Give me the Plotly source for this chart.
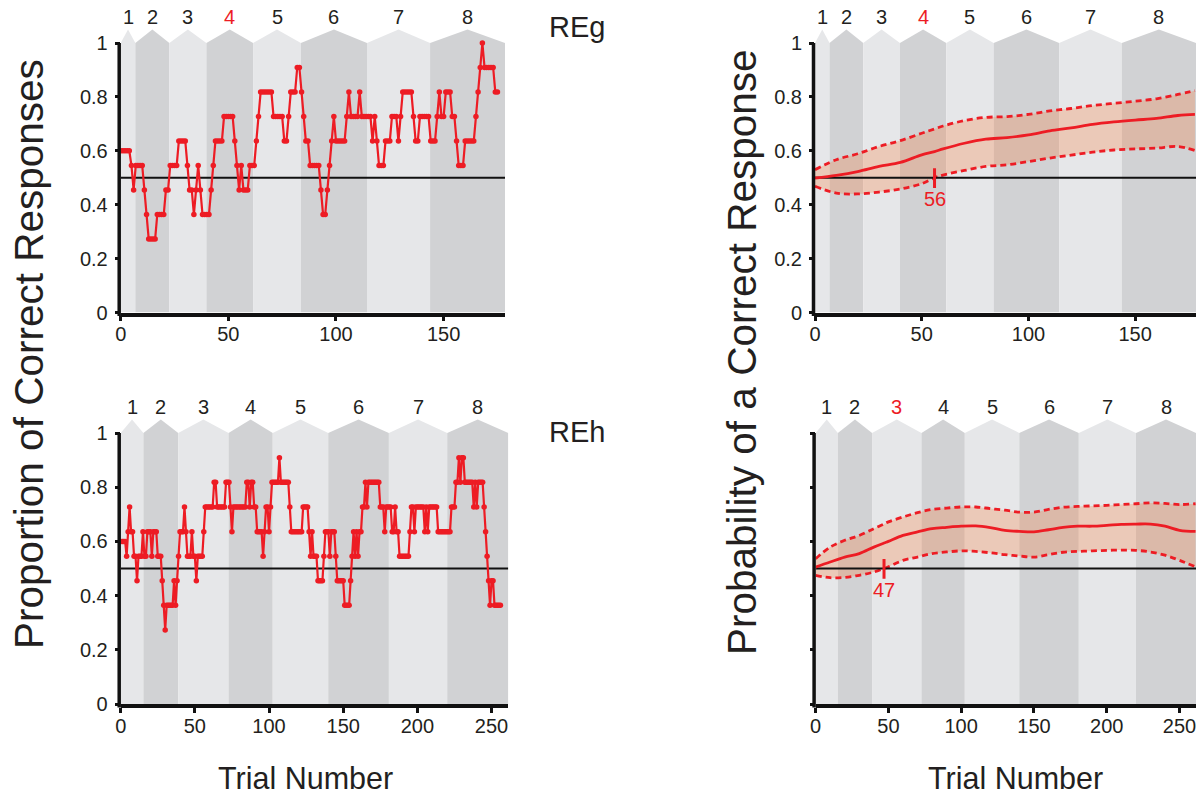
import plotly.graph_objects as go

# ---------------- data ----------------
# Sliding-window proportion of correct responses, one value per trial (trial 0 first)
reg_prop = [
    0.600, 0.600, 0.600, 0.600, 0.600, 0.545, 0.455, 0.545, 0.545, 0.545,
    0.545, 0.455, 0.364, 0.273, 0.273, 0.273, 0.273, 0.364, 0.364, 0.364,
    0.364, 0.455, 0.455, 0.545, 0.545, 0.545, 0.545, 0.636, 0.636, 0.636,
    0.636, 0.545, 0.455, 0.455, 0.364, 0.455, 0.545, 0.455, 0.364, 0.364,
    0.364, 0.364, 0.455, 0.545, 0.636, 0.636, 0.636, 0.636, 0.727, 0.727,
    0.727, 0.727, 0.727, 0.636, 0.545, 0.455, 0.545, 0.455, 0.455, 0.455,
    0.545, 0.545, 0.545, 0.636, 0.727, 0.818, 0.818, 0.818, 0.818, 0.818,
    0.818, 0.727, 0.727, 0.727, 0.727, 0.727, 0.636, 0.636, 0.727, 0.818,
    0.818, 0.818, 0.909, 0.909, 0.818, 0.727, 0.636, 0.636, 0.545, 0.545,
    0.545, 0.545, 0.545, 0.455, 0.364, 0.364, 0.455, 0.545, 0.636, 0.727,
    0.636, 0.636, 0.636, 0.636, 0.636, 0.727, 0.818, 0.727, 0.727, 0.727,
    0.727, 0.818, 0.727, 0.727, 0.727, 0.727, 0.727, 0.636, 0.727, 0.636,
    0.545, 0.545, 0.545, 0.636, 0.636, 0.636, 0.727, 0.727, 0.727, 0.636,
    0.727, 0.818, 0.818, 0.818, 0.818, 0.818, 0.727, 0.636, 0.636, 0.727,
    0.727, 0.727, 0.727, 0.727, 0.636, 0.636, 0.636, 0.727, 0.818, 0.727,
    0.727, 0.818, 0.818, 0.818, 0.727, 0.727, 0.636, 0.545, 0.545, 0.545,
    0.636, 0.636, 0.636, 0.636, 0.636, 0.727, 0.818, 0.909, 1.000, 0.909,
    0.909, 0.909, 0.909, 0.909, 0.818, 0.818,
]

reh_prop = [
    0.600, 0.600, 0.600, 0.600, 0.545, 0.636, 0.727, 0.636, 0.636, 0.545,
    0.545, 0.455, 0.545, 0.545, 0.545, 0.636, 0.545, 0.545, 0.636, 0.636,
    0.636, 0.545, 0.636, 0.636, 0.636, 0.545, 0.545, 0.545, 0.455, 0.364,
    0.273, 0.364, 0.364, 0.364, 0.364, 0.364, 0.455, 0.364, 0.455, 0.545,
    0.636, 0.636, 0.636, 0.727, 0.636, 0.545, 0.545, 0.545, 0.636, 0.545,
    0.545, 0.455, 0.545, 0.545, 0.545, 0.545, 0.636, 0.727, 0.727, 0.727,
    0.727, 0.727, 0.727, 0.818, 0.818, 0.727, 0.727, 0.727, 0.727, 0.727,
    0.727, 0.818, 0.818, 0.818, 0.727, 0.636, 0.727, 0.727, 0.727, 0.727,
    0.727, 0.727, 0.727, 0.727, 0.727, 0.818, 0.818, 0.727, 0.818, 0.818,
    0.727, 0.727, 0.636, 0.636, 0.636, 0.636, 0.545, 0.636, 0.727, 0.727,
    0.636, 0.727, 0.818, 0.818, 0.818, 0.818, 0.818, 0.909, 0.818, 0.818,
    0.818, 0.818, 0.818, 0.818, 0.727, 0.636, 0.636, 0.636, 0.636, 0.636,
    0.636, 0.636, 0.636, 0.727, 0.727, 0.727, 0.727, 0.636, 0.545, 0.636,
    0.545, 0.545, 0.545, 0.455, 0.455, 0.455, 0.455, 0.545, 0.636, 0.636,
    0.636, 0.545, 0.636, 0.636, 0.636, 0.545, 0.455, 0.455, 0.455, 0.455,
    0.455, 0.364, 0.364, 0.364, 0.364, 0.455, 0.545, 0.636, 0.545, 0.636,
    0.545, 0.636, 0.636, 0.727, 0.727, 0.818, 0.727, 0.818, 0.818, 0.818,
    0.818, 0.818, 0.818, 0.818, 0.818, 0.727, 0.727, 0.727, 0.636, 0.727,
    0.727, 0.727, 0.727, 0.636, 0.636, 0.727, 0.636, 0.636, 0.545, 0.545,
    0.545, 0.545, 0.545, 0.545, 0.545, 0.636, 0.727, 0.727, 0.636, 0.727,
    0.727, 0.727, 0.727, 0.727, 0.727, 0.636, 0.727, 0.636, 0.727, 0.727,
    0.727, 0.727, 0.727, 0.727, 0.636, 0.636, 0.636, 0.636, 0.636, 0.636,
    0.636, 0.636, 0.636, 0.727, 0.727, 0.727, 0.818, 0.818, 0.909, 0.818,
    0.909, 0.909, 0.818, 0.818, 0.818, 0.818, 0.818, 0.818, 0.727, 0.818,
    0.727, 0.818, 0.818, 0.818, 0.818, 0.727, 0.636, 0.545, 0.455, 0.364,
    0.455, 0.455, 0.364, 0.364, 0.364, 0.364, 0.364,
]

# Estimated probability of a correct response with its 95% confidence band
reg_est_trial = [0, 10, 20, 30, 40, 50, 56, 60, 70, 80, 90, 100, 110, 120, 130, 140, 150, 160, 170, 178]
reg_est_mean = [0.499, 0.509, 0.523, 0.542, 0.557, 0.585, 0.597, 0.607, 0.628, 0.643,
                0.649, 0.659, 0.674, 0.685, 0.698, 0.707, 0.714, 0.720, 0.731, 0.735]
reg_est_upper = [0.530, 0.567, 0.589, 0.616, 0.638, 0.665, 0.681, 0.692, 0.712, 0.724,
                 0.727, 0.735, 0.748, 0.757, 0.768, 0.776, 0.784, 0.793, 0.809, 0.823]
reg_est_lower = [0.468, 0.443, 0.440, 0.447, 0.458, 0.478, 0.500, 0.510, 0.527, 0.542,
                 0.548, 0.560, 0.573, 0.584, 0.595, 0.603, 0.607, 0.610, 0.616, 0.601]

reh_est_trial = [0, 10, 20, 30, 40, 47, 50, 60, 70, 80, 90, 100, 110, 120, 130, 140,
                 150, 160, 170, 180, 190, 200, 210, 220, 230, 240, 250, 261]
reh_est_mean = [0.505, 0.524, 0.542, 0.555, 0.579, 0.594, 0.600, 0.622, 0.635, 0.647,
                0.652, 0.656, 0.657, 0.651, 0.641, 0.637, 0.635, 0.643, 0.652, 0.656,
                0.656, 0.659, 0.663, 0.664, 0.664, 0.656, 0.641, 0.637]
reh_est_upper = [0.536, 0.579, 0.604, 0.622, 0.647, 0.664, 0.672, 0.690, 0.706, 0.718,
                 0.723, 0.727, 0.727, 0.721, 0.715, 0.708, 0.708, 0.718, 0.726, 0.729,
                 0.731, 0.733, 0.736, 0.739, 0.742, 0.740, 0.736, 0.739]
reh_est_lower = [0.475, 0.466, 0.467, 0.475, 0.487, 0.500, 0.506, 0.530, 0.542, 0.555,
                 0.561, 0.565, 0.563, 0.558, 0.551, 0.546, 0.542, 0.551, 0.560, 0.563,
                 0.565, 0.567, 0.568, 0.567, 0.561, 0.549, 0.530, 0.506]

# Block boundaries (trial number at which each block starts / the last one ends)
reg_block_edges = [0, 6.8, 22.6, 39.8, 61.5, 83.7, 114.4, 143.7, 178.5]
reh_block_edges = [0, 15.3, 38.8, 72.7, 102.5, 139.9, 180.8, 220.1, 261.3]

# Learning trial: first trial where the lower confidence bound exceeds chance
reg_learning_trial = 56
reh_learning_trial = 47
chance_level = 0.5

y_tick_vals = [0, 0.2, 0.4, 0.6, 0.8, 1.0]
y_tick_text = ["0", "0.2", "0.4", "0.6", "0.8", "1"]

# ---------------- styling ----------------
W, H = 1199, 795
FONT = "Arial, 'Liberation Sans', Helvetica, sans-serif"
RED = "#ed1c24"
TXT = "#231f20"
AXIS = "#111111"
LIGHT = "#e6e7e9"
DARK = "#d1d2d4"
BAND = "rgba(250,111,41,0.25)"
ROOF = 0.05
YTOP = 1.06

# panel pixel boxes: (left px, right px, y=0 px, y=1 px)
panels = {
    "tl": (120.7, 505.0, 312.5, 43.0),
    "tr": (815.0, 1196.0, 312.5, 43.0),
    "bl": (120.7, 508.3, 704.0, 433.0),
    "br": (815.6, 1196.0, 704.0, 433.0),
}
axis_ids = {"tl": ("x", "y"), "tr": ("x2", "y2"), "bl": ("x3", "y3"), "br": ("x4", "y4")}


def domains(box):
    left, right, y0, y1 = box
    unit = y0 - y1
    ytop = y1 - (YTOP - 1.0) * unit
    return [left / W, right / W], [(H - y0) / H, (H - ytop) / H]


fig = go.Figure()
shapes = []
annotations = []


def add_blocks(edges, key, highlight):
    xr, yr = axis_ids[key]
    left, right, y0, y1 = panels[key]
    label_py = y1 - 0.095 * (y0 - y1)
    for i in range(len(edges) - 1):
        a, b = edges[i], edges[i + 1]
        c = (a + b) / 2
        col = LIGHT if i % 2 == 0 else DARK
        shapes.append(dict(
            type="path", xref=xr, yref=yr, layer="below", line=dict(width=0),
            fillcolor=col,
            path=f"M {a},0 L {a},1 L {c},{1 + ROOF} L {b},1 L {b},0 Z",
        ))
        cx = left + c / edges[-1] * (right - left)
        annotations.append(dict(
            x=cx / W, y=(H - label_py) / H, xref="paper", yref="paper",
            text=str(i + 1), showarrow=False,
            font=dict(size=20, color=RED if (i + 1) == highlight else TXT, family=FONT),
            xanchor="center", yanchor="middle",
        ))


def add_chance(xend, xr, yr):
    fig.add_trace(go.Scatter(
        x=[0, xend], y=[chance_level, chance_level], mode="lines",
        line=dict(color=AXIS, width=2), xaxis=xr, yaxis=yr,
        hoverinfo="skip", showlegend=False,
    ))


def add_raw(values, xr, yr):
    fig.add_trace(go.Scatter(
        x=list(range(len(values))), y=values, mode="lines+markers",
        line=dict(color=RED, width=2.2), marker=dict(color=RED, size=5.5),
        xaxis=xr, yaxis=yr, cliponaxis=False, showlegend=False,
    ))


def add_estimate(t, mean, lo, hi, xr, yr, xend, learn):
    dash = "6px,4px"
    fig.add_trace(go.Scatter(
        x=t, y=hi, mode="lines", line=dict(color=RED, width=2.8, dash=dash, shape="spline"),
        xaxis=xr, yaxis=yr, showlegend=False,
    ))
    fig.add_trace(go.Scatter(
        x=t, y=lo, mode="lines", line=dict(color=RED, width=2.8, dash=dash, shape="spline"),
        fill="tonexty", fillcolor=BAND, xaxis=xr, yaxis=yr, showlegend=False,
    ))
    add_chance(xend, xr, yr)
    fig.add_trace(go.Scatter(
        x=t, y=mean, mode="lines", line=dict(color=RED, width=2.8, shape="spline"),
        xaxis=xr, yaxis=yr, showlegend=False,
    ))
    shapes.append(dict(
        type="line", xref=xr, yref=yr, x0=learn, x1=learn, y0=0.462, y1=0.535,
        line=dict(color=RED, width=3),
    ))
    annotations.append(dict(
        x=learn, y=0.42, xref=xr, yref=yr, text=str(learn), showarrow=False,
        font=dict(size=20, color=RED, family=FONT), xanchor="center", yanchor="middle",
    ))


# top-left: REg raw proportions
add_blocks(reg_block_edges, "tl", highlight=4)
add_chance(reg_block_edges[-1], "x", "y")
add_raw(reg_prop, "x", "y")

# top-right: REg estimated probability
add_blocks(reg_block_edges, "tr", highlight=4)
add_estimate(reg_est_trial, reg_est_mean, reg_est_lower, reg_est_upper, "x2", "y2",
             reg_block_edges[-1], reg_learning_trial)

# bottom-left: REh raw proportions
add_blocks(reh_block_edges, "bl", highlight=None)
add_chance(reh_block_edges[-1], "x3", "y3")
add_raw(reh_prop, "x3", "y3")

# bottom-right: REh estimated probability
add_blocks(reh_block_edges, "br", highlight=3)
add_estimate(reh_est_trial, reh_est_mean, reh_est_lower, reh_est_upper, "x4", "y4",
             reh_block_edges[-1], reh_learning_trial)

layout_axes = {}
for key, (xa, ya) in axis_ids.items():
    xd, yd = domains(panels[key])
    top = key.startswith("t")
    edges = reg_block_edges if top else reh_block_edges
    xticks = [0, 50, 100, 150] if top else [0, 50, 100, 150, 200, 250]
    xname = "xaxis" if xa == "x" else "xaxis" + xa[1:]
    yname = "yaxis" if ya == "y" else "yaxis" + ya[1:]
    layout_axes[xname] = dict(
        domain=xd, range=[0, edges[-1]], anchor=ya, tickvals=xticks,
        ticks="outside", ticklen=5, tickwidth=3, tickcolor=AXIS,
        showline=True, linewidth=3.5, linecolor=AXIS,
        showgrid=False, zeroline=False, automargin=False,
        ticklabelstandoff=-4,
        tickfont=dict(size=20, color=TXT, family=FONT),
    )
    layout_axes[yname] = dict(
        domain=yd, range=[0, YTOP], anchor=xa, tickvals=y_tick_vals, ticktext=y_tick_text,
        ticks="outside", ticklen=5, tickwidth=3, tickcolor=AXIS,
        showline=False, showgrid=False, zeroline=False, automargin=False,
        ticklabelstandoff=3,
        showticklabels=(key != "br"),
        tickfont=dict(size=20, color=TXT, family=FONT),
    )
    # vertical axis line from 0 to 1 only
    left, right, y0, y1 = panels[key]
    shapes.append(dict(
        type="line", xref="paper", yref="paper",
        x0=(left - 1.5) / W, x1=(left - 1.5) / W,
        y0=(H - y0 - 3.5) / H, y1=(H - y1) / H,
        line=dict(color=AXIS, width=3.5),
    ))

# subject labels, axis titles
annotations += [
    dict(x=577 / W, y=(H - 27) / H, xref="paper", yref="paper", text="REg", showarrow=False,
         font=dict(size=29, color=TXT, family=FONT), xanchor="center", yanchor="middle"),
    dict(x=577 / W, y=(H - 432) / H, xref="paper", yref="paper", text="REh", showarrow=False,
         font=dict(size=29, color=TXT, family=FONT), xanchor="center", yanchor="middle"),
    dict(x=29 / W, y=(H - 354) / H, xref="paper", yref="paper",
         text="Proportion of Correct Responses", showarrow=False, textangle=-90,
         font=dict(size=40.5, color=TXT, family=FONT), xanchor="center", yanchor="middle"),
    dict(x=742 / W, y=(H - 352) / H, xref="paper", yref="paper",
         text="Probability of a Correct Response", showarrow=False, textangle=-90,
         font=dict(size=40.5, color=TXT, family=FONT), xanchor="center", yanchor="middle"),
    dict(x=305 / W, y=(H - 778) / H, xref="paper", yref="paper", text="Trial Number",
         showarrow=False, font=dict(size=30.5, color=TXT, family=FONT),
         xanchor="center", yanchor="middle"),
    dict(x=1015 / W, y=(H - 778) / H, xref="paper", yref="paper", text="Trial Number",
         showarrow=False, font=dict(size=30.5, color=TXT, family=FONT),
         xanchor="center", yanchor="middle"),
]

fig.update_layout(
    template="none",
    width=W, height=H, margin=dict(l=0, r=0, t=0, b=0, autoexpand=False),
    paper_bgcolor="white", plot_bgcolor="white",
    showlegend=False, shapes=shapes, annotations=annotations,
    font=dict(family=FONT, color=TXT),
    **layout_axes,
)

fig.write_html("out.html")
